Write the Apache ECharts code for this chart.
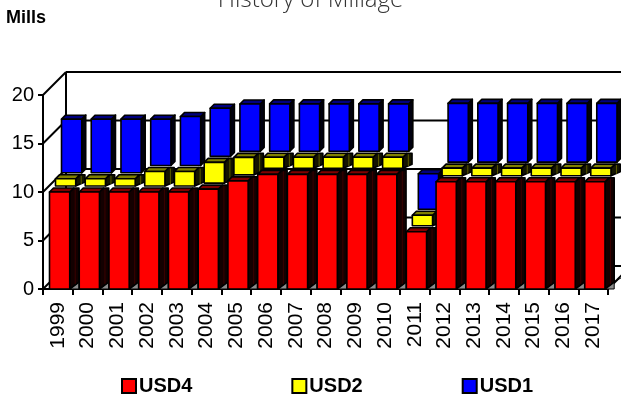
<!DOCTYPE html>
<html><head><meta charset="utf-8">
<script src="https://cdn.jsdelivr.net/npm/echarts@6/dist/echarts.min.js"></script>
<style>html,body{margin:0;padding:0;background:#fff}#c{width:621px;height:410px}</style>
</head><body><div id="c"></div>
<script>
const years = ['1999','2000','2001','2002','2003','2004','2005','2006','2007','2008','2009','2010','2011','2012','2013','2014','2015','2016','2017'];
const usd4 = [10.0,10.0,10.0,10.0,10.0,10.3,11.15,11.82,11.82,11.82,11.82,11.82,5.9,11.05,11.05,11.05,11.05,11.05,11.05];
const usd2 = [0.74,0.74,0.74,1.49,1.49,2.14,1.8,1.14,1.14,1.14,1.14,1.14,1.08,0.79,0.79,0.79,0.79,0.79,0.79];
const usd1 = [5.53,5.53,5.53,4.78,5.05,4.96,4.89,4.89,4.89,4.89,4.89,4.89,3.66,6.06,6.06,6.06,6.06,6.06,6.06];
const yTicks = [0,5,10,15,20];
const seriesNames = ['USD4','USD2','USD1'];

const DEPTH = 23;      // wall depth in px
const STEP = 6;        // series depth step
const BOX = 4;         // box depth

function shade(front, top, side, line){ return {front, top, side, line}; }
const colors = [shade('#ff0000','#800000','#140000','#3a0000'), shade('#ffff00','#808000','#141400','#5a5a00'), shade('#0000ff','#000080','#00000f','#000040')];

const arrays = [usd4, usd2, usd1];
const stacked = arrays.map((arr, s) => arr.map((v, i) => {
  let b = 0; for (let k = 0; k < s; k++) b += arrays[k][i];
  return [i, b, b + v];
}));

function boxRenderer(s){
  const d = s * STEP, c = colors[s];
  return function(params, api){
    const i = api.value(0);
    const pT = api.coord([i, api.value(2)]);
    const pB = api.coord([i, api.value(1)]);
    const bw = api.size([1, 0])[0];
    const w = bw * 0.68;
    const x = pT[0] - bw / 2 + 6.5 + d;
    const yT = pT[1] - d, yB = pB[1] - d;
    const k = BOX;
    const ext = s < 2 ? bw - w - 0.3 : k;
    const st = {stroke:'#000', lineWidth:1.6, lineJoin:'round'};
    const ch = [];
    if (s === 0) {
      ch.push({type:'polygon', shape:{points:[[x+w,yB],[x+w+ext,yB],[x+w+ext,yB-7]]}, style:{fill:'#8c8c8c', stroke:'#000', lineWidth:1}});
    }
    const bottomRise = s === 0 ? 7 : k;
    ch.push({type:'polygon', shape:{points:[[x+w,yT],[x+w+k,yT-k],[x+w+ext,yT-k],[x+w+ext,yB-bottomRise],[x+w,yB]]}, style:Object.assign({fill:c.side}, st)});
    if (s < 2) {
      ch.push({type:'line', shape:{x1:x+w+k+1.5, y1:yT-k+1, x2:x+w+k+1.5, y2:yB-bottomRise+2}, style:{stroke:c.line, lineWidth:1}});
    }
    ch.push({type:'polygon', shape:{points:[[x,yT],[x+w,yT],[x+w+k,yT-k],[x+k,yT-k]]}, style:Object.assign({fill:c.top}, st)});
    ch.push({type:'rect', shape:{x:x, y:yT, width:w, height:yB-yT}, style:Object.assign({fill:c.front}, st)});
    return {type:'group', children:ch};
  };
}

function frameRenderer(params, api){
  const cs = params.coordSys;
  const x0 = cs.x, W = cs.width;
  const v = api.value(0);
  const y = api.coord([0, v])[1];
  const ls = {stroke:'#000', lineWidth:2};
  const ch = [
    {type:'line', shape:{x1:x0, y1:y, x2:x0+DEPTH, y2:y-DEPTH}, style:ls},
    {type:'line', shape:{x1:x0+DEPTH, y1:y-DEPTH, x2:x0+W+DEPTH, y2:y-DEPTH}, style:ls}
  ];
  if (v === 0) {
    const y20 = api.coord([0, 20])[1];
    ch.push({type:'line', shape:{x1:x0+DEPTH, y1:y-DEPTH, x2:x0+DEPTH, y2:y20-DEPTH}, style:ls});
    ch.push({type:'line', shape:{x1:x0+W, y1:y, x2:x0+W+DEPTH, y2:y-DEPTH}, style:ls});
    ch.push({type:'polygon', shape:{points:[[x0+W-6,y],[x0+W,y],[x0+W+DEPTH,y-DEPTH],[x0+W+DEPTH,y-DEPTH+6]]}, style:{fill:'#8c8c8c', stroke:'#000', lineWidth:1}});
  }
  return {type:'group', children:ch};
}

const chart = echarts.init(document.getElementById('c'), null, {renderer:'canvas'});
const FONT = 'Liberation Sans';
const series = [{
  type:'custom', name:'frame', renderItem: frameRenderer, data: yTicks.map(v => [v]),
  clip:false, silent:true, z:1, legendHoverLink:false
}];
[2,1,0].forEach(s => {
  series.push({
    type:'custom', name: seriesNames[s], renderItem: boxRenderer(s), data: stacked[s],
    clip:false, z: 2 + (2 - s), itemStyle:{color: colors[s].front, borderColor:'#000', borderWidth:2},
    encode:{x:0, y:[1,2]}
  });
});

chart.setOption({
  animation:false,
  title:{text:'History of Millage', left:'center', top:-17, textStyle:{fontFamily:'Open Sans', fontWeight:300, fontSize:24, color:'#333'}},
  graphic:[{type:'text', left:6, top:9, style:{text:'Mills', font:'bold 18px "Liberation Sans"', fill:'#000'}}],
  legend:{data:seriesNames, left:116, top:371, icon:'rect', itemWidth:14, itemHeight:14, itemGap:99,
    itemStyle:{borderColor:'#000', borderWidth:2},
    textStyle:{fontFamily:FONT, fontWeight:'bold', fontSize:20, color:'#000', padding:[0,0,0,-2]}},
  grid:{left:43, right:13, top:95, bottom:121, containLabel:false},
  xAxis:{type:'category', data:years, boundaryGap:true,
    axisLine:{lineStyle:{color:'#000', width:2}},
    axisTick:{show:true, length:6, lineStyle:{color:'#000', width:2}, alignWithLabel:false},
    axisLabel:{rotate:90, fontFamily:FONT, fontSize:21, color:'#000', margin:13, interval:0},
    splitLine:{show:false}},
  yAxis:{type:'value', min:0, max:20, interval:5,
    axisLine:{show:true, lineStyle:{color:'#000', width:2}},
    axisTick:{show:true, length:5, lineStyle:{color:'#000', width:2}},
    axisLabel:{fontFamily:FONT, fontSize:20, color:'#000', margin:9},
    splitLine:{show:false}},
  series: series
});
</script></body></html>
